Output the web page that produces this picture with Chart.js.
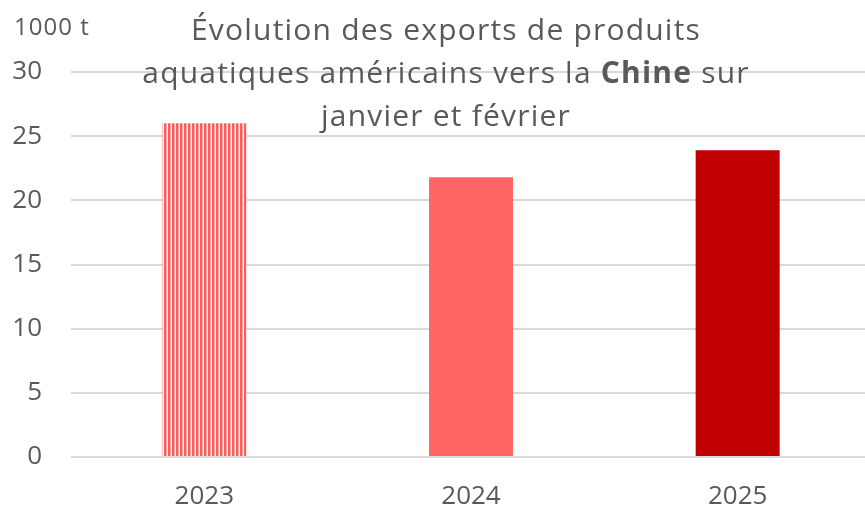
<!DOCTYPE html>
<html>
<head>
<meta charset="utf-8">
<script src="https://cdn.jsdelivr.net/npm/chart.js@4/dist/chart.umd.min.js"></script>
<style>
  html, body { margin: 0; padding: 0; background: #fff; overflow: hidden; }
  #wrap { width: 865px; height: 510px; overflow: hidden; }
</style>
</head>
<body>
<div id="wrap"><canvas id="c" width="871" height="510"></canvas></div>
<script>
// Exports (thousand tonnes), January–February
const years = ['2023', '2024', '2025'];
const exportsKt = [26.0, 21.8, 23.9];
const yTicks = [0, 5, 10, 15, 20, 25, 30];
const unitLabel = '1000 t';
const titleLines = [
  [{ t: 'Évolution des exports de produits' }],
  [{ t: 'aquatiques américains vers la ' }, { t: 'Chine', b: true }, { t: ' sur' }],
  [{ t: 'janvier et février' }]
];

const FONT = '"Open Sans", "Noto Sans", sans-serif';
const GREY = '#595959';

// vertical stripe fill for the first bar
function stripes() {
  const p = document.createElement('canvas');
  p.width = 4; p.height = 4;
  const g = p.getContext('2d');
  g.fillStyle = '#ffffff'; g.fillRect(0, 0, 4, 4);
  g.fillStyle = '#FF5C5C'; g.fillRect(0, 0, 2, 4);
  g.fillStyle = '#FFA6A6'; g.fillRect(2, 0, 1, 4);
  return g.createPattern(p, 'repeat');
}
const ctx0 = document.getElementById('c').getContext('2d');
const barColors = [stripes(), '#FF6666', '#C00000'];

const overlay = {
  id: 'overlay',
  afterDraw(chart) {
    const c = chart.ctx;
    c.save();
    c.fillStyle = GREY;
    c.textBaseline = 'alphabetic';
    c.textAlign = 'left';
    c.letterSpacing = '1px';
    c.font = '24px ' + FONT;
    c.fillText(unitLabel, 14, 35);
    c.letterSpacing = '1.2px';
    const cx = 446, size = 30, base = 40, lh = 43;
    titleLines.forEach((line, i) => {
      let w = 0;
      line.forEach(s => { c.font = (s.b ? 'bold ' : '') + size + 'px ' + FONT; w += c.measureText(s.t).width; });
      let x = cx - w / 2;
      line.forEach(s => {
        c.font = (s.b ? 'bold ' : '') + size + 'px ' + FONT;
        c.fillText(s.t, x, base + i * lh);
        x += c.measureText(s.t).width;
      });
    });
    c.restore();
  }
};

new Chart(ctx0, {
  type: 'bar',
  data: {
    labels: years,
    datasets: [{
      data: exportsKt,
      backgroundColor: barColors,
      borderWidth: 0,
      barPercentage: 1,
      categoryPercentage: 0.315
    }]
  },
  options: {
    responsive: false,
    animation: false,
    layout: { padding: { top: 72, right: 0, bottom: 0, left: 0 } },
    plugins: { legend: { display: false }, title: { display: false }, tooltip: { enabled: false } },
    scales: {
      x: {
        afterFit(s) { s.height = 53; },
        grid: { display: false, drawTicks: false },
        border: { display: false },
        ticks: { color: GREY, font: { family: FONT, size: 26 }, padding: 24 }
      },
      y: {
        min: 0, max: 30,
        afterFit(s) { s.width = 71; },
        afterBuildTicks(s) { s.ticks = yTicks.map(v => ({ value: v })); },
        grid: { color: '#D9D9D9', lineWidth: 2, drawTicks: false },
        border: { display: false },
        ticks: { color: GREY, font: { family: FONT, size: 26 }, padding: 29 }
      }
    }
  },
  plugins: [overlay]
});
</script>
</body>
</html>
